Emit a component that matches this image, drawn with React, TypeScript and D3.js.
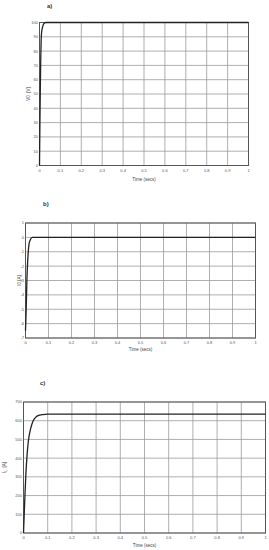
import * as d3 from "d3";

// ---- data ----
const xTicks = [0, 0.1, 0.2, 0.3, 0.4, 0.5, 0.6, 0.7, 0.8, 0.9, 1];

const vTime = [0, 0.002, 0.004, 0.006, 0.008, 0.01, 0.015, 0.02, 0.03, 1];
const vValue = [0, 30, 55, 75, 88, 93, 97, 99, 100, 100];
const vTicks = [0, 10, 20, 30, 40, 50, 60, 70, 80, 90, 100];

const iTime = [0, 0.003, 0.006, 0.009, 0.012, 0.015, 0.02, 0.03, 1];
const iValue = [-6.5, -5, -3, -1.8, -1, -0.5, -0.2, 0, 0];
const iTicks = [-7, -6, -5, -4, -3, -2, -1, 0, 1];

const lTime = [0, 0.005, 0.01, 0.015, 0.02, 0.03, 0.04, 0.05, 0.06, 0.08, 0.1, 1];
const lValue = [0, 170, 320, 420, 490, 560, 600, 618, 627, 633, 635, 635];
const lTicks = [0, 100, 200, 300, 400, 500, 600, 700];

type Panel = {
  tag: string;
  tagX: number;
  tagY: number;
  left: number;
  right: number;
  top: number;
  bottom: number;
  yDomain: [number, number];
  yTicks: number[];
  time: number[];
  value: number[];
  yLabel: string;
  ySub?: string;
  yUnit: string;
  yLabelX: number;
  xLabelY: number;
};

const panels: Panel[] = [
  {
    tag: "a)", tagX: 47, tagY: 8, left: 39.5, right: 248.5, top: 22.5, bottom: 165.5,
    yDomain: [0, 100], yTicks: vTicks, time: vTime, value: vValue,
    yLabel: "V0", yUnit: "  [V]", yLabelX: 30, xLabelY: 181,
  },
  {
    tag: "b)", tagX: 43, tagY: 206, left: 25.5, right: 255.5, top: 223, bottom: 338,
    yDomain: [-7, 1], yTicks: iTicks, time: iTime, value: iValue,
    yLabel: "I0", yUnit: " [A]", yLabelX: 21, xLabelY: 351,
  },
  {
    tag: "c)", tagX: 40, tagY: 385, left: 23.5, right: 265.5, top: 402, bottom: 533,
    yDomain: [0, 700], yTicks: lTicks, time: lTime, value: lValue,
    yLabel: "I", ySub: "L", yUnit: "  [A]", yLabelX: 6, xLabelY: 547,
  },
];

const FONT = "Arial, 'Liberation Sans', sans-serif";

function PanelChart({ p }: { p: Panel }) {
  const x = d3.scaleLinear().domain([0, 1]).range([p.left, p.right]);
  const y = d3.scaleLinear().domain(p.yDomain).range([p.bottom, p.top]);
  const pts = p.time.map((t, i) => [t, p.value[i]] as [number, number]);
  const line = d3.line<[number, number]>()
    .x(d => x(d[0]))
    .y(d => y(d[1]))
    .curve(d3.curveMonotoneX);
  const midY = (p.top + p.bottom) / 2;

  return (
    <g>
      <text x={p.tagX} y={p.tagY} fontSize={6} fontWeight="bold" fill="#333"
        fontFamily={FONT}>{p.tag}</text>

      {xTicks.map(t => (
        <line key={"gx" + t} x1={x(t)} x2={x(t)} y1={p.top} y2={p.bottom}
          stroke="#9a9a9a" strokeWidth={0.8} />
      ))}
      {p.yTicks.map(v => (
        <line key={"gy" + v} x1={p.left} x2={p.right} y1={y(v)} y2={y(v)}
          stroke="#9a9a9a" strokeWidth={0.8} />
      ))}
      <rect x={p.left} y={p.top} width={p.right - p.left} height={p.bottom - p.top}
        fill="none" stroke="#555" strokeWidth={1} />

      {xTicks.map(t => (
        <text key={"tx" + t} x={x(t)} y={p.bottom + 6} fontSize={4} fill="#555"
          textAnchor="middle" fontFamily={FONT}>{String(t)}</text>
      ))}
      {p.yTicks.map(v => (
        <text key={"ty" + v} x={p.left - 1.5} y={y(v) + 1.4} fontSize={4} fill="#555"
          textAnchor="end" fontFamily={FONT}>{v}</text>
      ))}

      <path d={line(pts) ?? ""} fill="none" stroke="#222" strokeWidth={1.3} />

      <text x={(p.left + p.right) / 2} y={p.xLabelY} fontSize={4.5} fill="#444"
        textAnchor="middle" fontFamily={FONT}>Time (secs)</text>
      <text transform={`translate(${p.yLabelX},${midY}) rotate(-90)`} fontSize={4.5} fill="#444"
        textAnchor="middle" fontFamily={FONT} xmlSpace="preserve">
        {p.yLabel}
        {p.ySub && <tspan fontSize={3.2} dy={1}>{p.ySub}</tspan>}
        {p.ySub ? <tspan dy={-1}>{p.yUnit}</tspan> : p.yUnit}
      </text>
    </g>
  );
}

export default function App() {
  return (
    <svg width={269} height={550}
      style={{ position: "absolute", left: 0, top: 0, background: "#fff" }}>
      {panels.map(p => <PanelChart key={p.tag} p={p} />)}
    </svg>
  );
}
